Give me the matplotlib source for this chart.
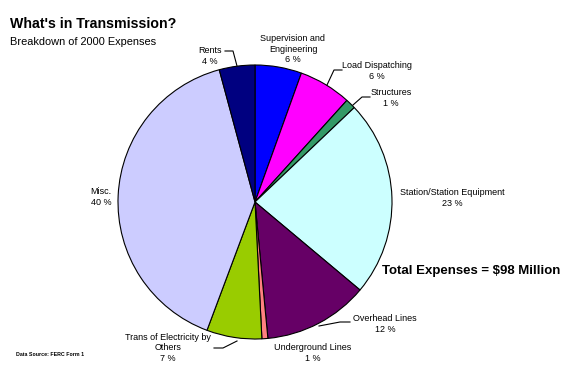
import matplotlib
matplotlib.use('Agg')
import matplotlib.pyplot as plt
from matplotlib.lines import Line2D

W, H = 574, 370

# slice data, clockwise from 12 o'clock
categories = ['Supervision and\nEngineering', 'Load Dispatching', 'Structures',
              'Station/Station Equipment', 'Overhead Lines', 'Underground Lines',
              'Trans of Electricity by\nOthers', 'Misc.', 'Rents']
shares = [5.5, 6.2, 1.2, 23.2, 12.4, 0.7, 6.5, 40.1, 4.2]
pct_labels = ['6 %', '6 %', '1 %', '23 %', '12 %', '1 %', '7 %', '40 %', '4 %']
colors = ['#0000FF', '#FF00FF', '#339966', '#CCFFFF', '#660066', '#FF8080',
          '#99CC00', '#CCCCFF', '#000080']

plt.rcParams['font.family'] = ['Liberation Sans', 'DejaVu Sans']

fig = plt.figure(figsize=(W / 100, H / 100), dpi=100)

def fx(x):
    return x / W

def fy(y):
    return 1 - y / H

cx, cy, r = 255, 202, 137
ax = fig.add_axes([fx(cx - r), fy(cy + r), 2 * r / W, 2 * r / H])
ax.pie(shares, colors=colors, startangle=90, counterclock=False, radius=1,
       wedgeprops=dict(edgecolor='black', linewidth=0.8))
ax.set_xlim(-1, 1)
ax.set_ylim(-1, 1)
ax.axis('off')

# label text positions (pixel centres) and leader lines
label_pos = [(293, 49), (377, 71), (391, 98), (452, 198), (385, 324),
             (313, 353), (168, 348), (101, 197), (210, 56)]
for cat, pct, (x, y) in zip(categories, pct_labels, label_pos):
    fig.text(fx(x), fy(y), cat + '\n' + pct, ha='center', va='center',
             fontsize=6.5, linespacing=1.25)

leaders = [
    [(342, 70), (334, 70), (327, 85)],
    [(370, 97), (362, 97), (353, 105)],
    [(350, 322), (340, 322), (319, 326)],
    [(214, 348), (223, 348), (237, 341)],
    [(225, 51), (233, 51), (237, 66)],
]
for pts in leaders:
    xs = [fx(p[0]) for p in pts]
    ys = [fy(p[1]) for p in pts]
    fig.add_artist(Line2D(xs, ys, color='black', linewidth=0.8))

fig.text(fx(10), fy(24), "What's in Transmission?", fontsize=10.2, fontweight='bold',
         ha='left', va='center')
fig.text(fx(10), fy(42), 'Breakdown of 2000 Expenses', fontsize=7.9,
         ha='left', va='center')
fig.text(fx(471), fy(271), 'Total Expenses = $98 Million', fontsize=9.5,
         fontweight='bold', ha='center', va='center')
fig.text(fx(16), fy(354), 'Data Source: FERC Form 1', fontsize=3.8,
         fontweight='bold', ha='left', va='center')

fig.savefig('out.png', dpi=100, facecolor='white')
